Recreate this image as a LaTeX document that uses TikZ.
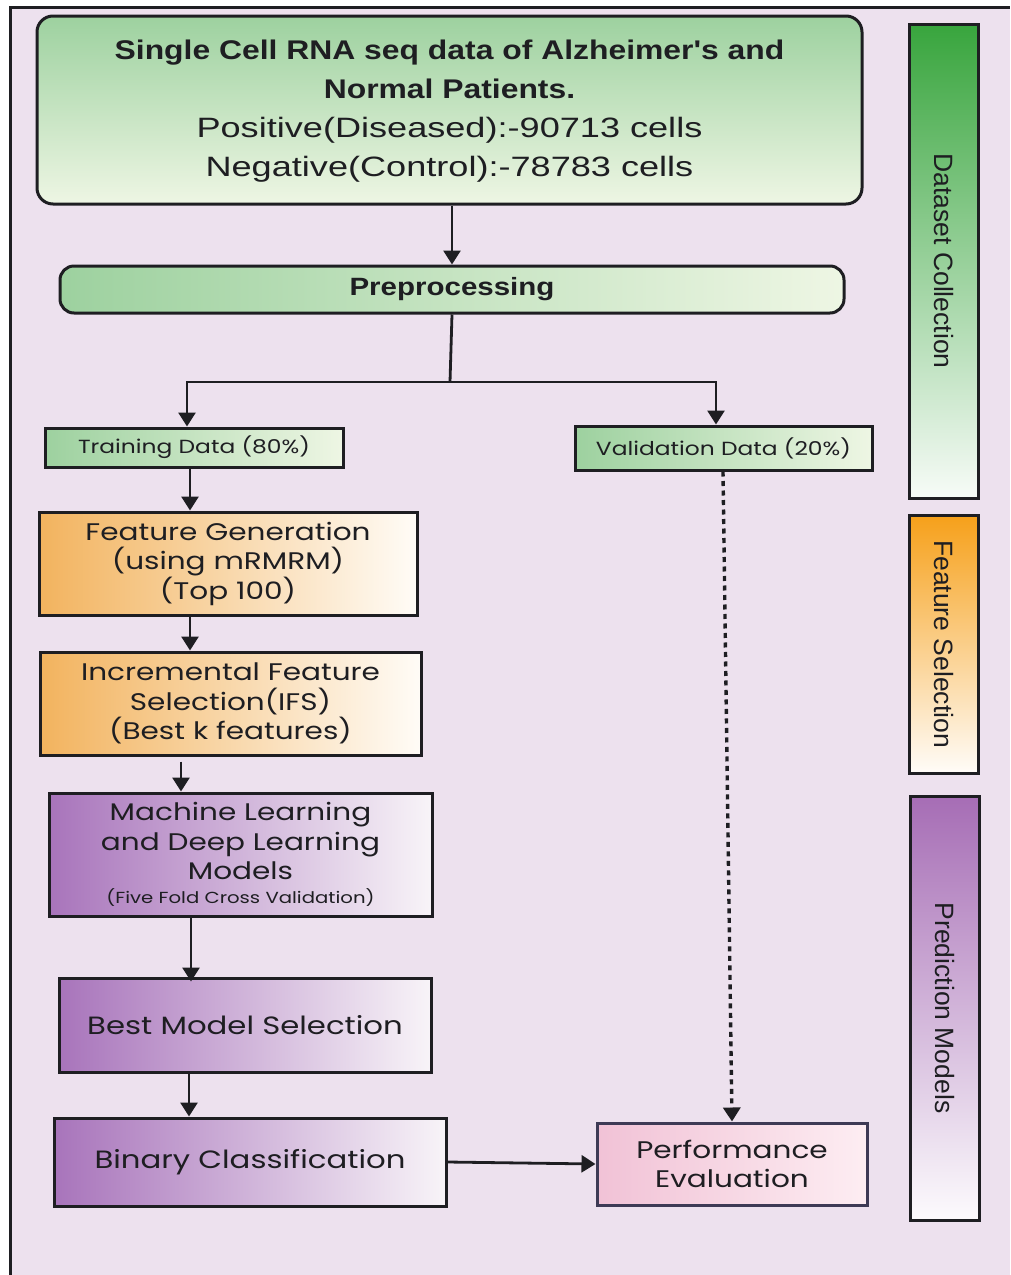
\documentclass[tikz,border=0pt]{standalone}
\usepackage{fontspec}
\setmainfont[FakeStretch=1.23]{Poppins}
\newfontfamily\sidefont{Liberation Sans}
\newfontfamily\boldtopfont[FakeStretch=1.18]{Liberation Sans}
\newfontfamily\regtopfont[FakeStretch=1.29]{Liberation Sans}
\usetikzlibrary{arrows.meta,shadings}
\definecolor{bg}{HTML}{EDE1EE}
\definecolor{ink}{HTML}{1E1E22}
\definecolor{gA}{HTML}{9DD19F}
\definecolor{gB}{HTML}{EEF6E4}
\definecolor{oA}{HTML}{F2B35E}
\definecolor{oB}{HTML}{FFFCF7}
\definecolor{pA}{HTML}{A874BB}
\definecolor{pB}{HTML}{F8F4F8}
\definecolor{kA}{HTML}{F1C2D6}
\definecolor{kB}{HTML}{FDEDF2}
\definecolor{kD}{HTML}{3E3A55}
\definecolor{sG}{HTML}{38A53D}
\definecolor{sO}{HTML}{F6A01A}
\definecolor{sP}{HTML}{A66DB5}
\tikzset{
  box/.style={draw=ink, line width=3pt, inner sep=0pt, align=center, text=ink},
  gbox/.style={box, left color=gA, right color=gB},
  obox/.style={box, left color=oA, right color=oB},
  pbox/.style={box, left color=pA, right color=pB},
  sidebar/.style={draw=ink, line width=3pt, inner sep=0pt},
  sidelabel/.style={rotate=-90, text=ink, font=\sidefont\fontsize{26.5}{30}\selectfont},
  arr/.style={draw=ink, line width=2.8pt, -{Triangle[length=14pt,width=17pt]}},
  conn/.style={draw=ink, line width=2.8pt},
  mid/.style={font=\fontsize{24}{29.5}\selectfont},
}
\begin{document}
\begin{tikzpicture}[x=1pt,y=-1pt]
\useasboundingbox (0,0) rectangle (1010,1275);
\fill[white] (0,0) rectangle (1010,1275);
\fill[bg] (10,7) rectangle (1010,1275);
\draw[ink, line width=3pt] (10,1275) -- (10,7) -- (1010,7);

% coordinates for connector x positions
\coordinate (xt) at (452,0);
\coordinate (xa) at (187,0);
\coordinate (xb) at (716,0);
\coordinate (xc) at (190,0);
\coordinate (xd) at (181,0);
\coordinate (xe) at (191,0);
\coordinate (xf) at (189,0);
\coordinate (xg) at (723,0);
\coordinate (xh) at (732,0);
\coordinate (split) at (450,382);

% top box
\node[box, rounded corners=16pt, top color=gA, bottom color=gB, minimum width=825pt, minimum height=188pt] (top) at (449.5,110) {};
\node[text=ink, align=center, font=\boldtopfont\bfseries\fontsize{27}{39}\selectfont] (t1) at (449.5,69) {Single Cell RNA seq data of Alzheimer's and\\Normal Patients.};
\node[text=ink, align=center, font=\regtopfont\fontsize{28}{39}\selectfont] (t2) at (449.5,150) {Positive(Diseased):-90713 cells\\Negative(Control):-78783 cells};

% preprocessing
\node[gbox, rounded corners=14pt, minimum width=784pt, minimum height=47pt, font=\boldtopfont\bfseries\fontsize{25}{30}\selectfont] (pre) at (452,289.5) {Preprocessing};

% data split
\node[gbox, minimum width=298pt, minimum height=39pt, font=\fontsize{19}{22}\selectfont] (train) at (194,447.5) {Training Data (80\%)};
\node[gbox, minimum width=297pt, minimum height=44pt, font=\fontsize{19}{22}\selectfont] (val) at (723.5,448) {Validation Data (20\%)};

% feature boxes
\node[obox, mid, minimum width=378pt, minimum height=103pt] (fg) at (228,563.5) {Feature Generation\\(using mRMRM)\\(Top 100)};
\node[obox, mid, minimum width=381pt, minimum height=103pt] (ifs) at (230.5,703.5) {Incremental Feature\\Selection(IFS)\\(Best k features)};

% model boxes
\node[pbox, mid, minimum width=383pt, minimum height=123pt] (ml) at (240.5,854.5) {Machine Learning\\and Deep Learning\\Models\\[-6pt]{\fontsize{16}{18}\selectfont (Five Fold Cross Validation)}};
\node[pbox, minimum width=372pt, minimum height=94pt, font=\fontsize{25}{30}\selectfont] (best) at (245,1025) {Best Model Selection};
\node[pbox, minimum width=392pt, minimum height=88pt, font=\fontsize{25}{30}\selectfont] (bin) at (250,1162) {Binary Classification};
\node[box, draw=kD, left color=kA, right color=kB, minimum width=270pt, minimum height=82pt, mid] (perf) at (732,1164) {Performance\\Evaluation};

% side bars
\node[sidebar, top color=sG, bottom color=white!96!sG, minimum width=69pt, minimum height=474pt] (sb1) at (943.5,261) {};
\node[sidelabel] (sl1) at (sb1.center) {Dataset Collection};
\node[sidebar, top color=sO, bottom color=white!97!sO, minimum width=69pt, minimum height=258pt] (sb2) at (943.5,644) {};
\node[sidelabel] (sl2) at (sb2.center) {Feature Selection};
\node[sidebar, top color=sP, bottom color=white!97!sP, minimum width=69pt, minimum height=424pt] (sb3) at (944.5,1008) {};
\node[sidelabel] (sl3) at (sb3.center) {Prediction Models};

% connectors
\draw[arr] (top.south -| xt) -- (pre.north -| xt);
\draw[conn] (pre.south -| xt) -- (split);
\draw[arr] (split) -| (train.north -| xa);
\draw[arr] (split) -| (val.north -| xb);
\draw[arr] (train.south -| xc) -- (fg.north -| xc);
\draw[arr] (fg.south -| xc) -- (ifs.north -| xc);
\draw[arr] ([yshift=-5pt]ifs.south -| xd) -- (ml.north -| xd);
\draw[arr] (ml.south -| xe) -- ([yshift=-5pt]best.north -| xe);
\draw[arr] (best.south -| xf) -- (bin.north -| xf);
\draw[arr] (bin.east) -- (perf.west);
\draw[arr, line width=3.4pt, dash pattern=on 5pt off 4.5pt] (val.south -| xg) -- (perf.north -| xh);
\end{tikzpicture}
\end{document}
